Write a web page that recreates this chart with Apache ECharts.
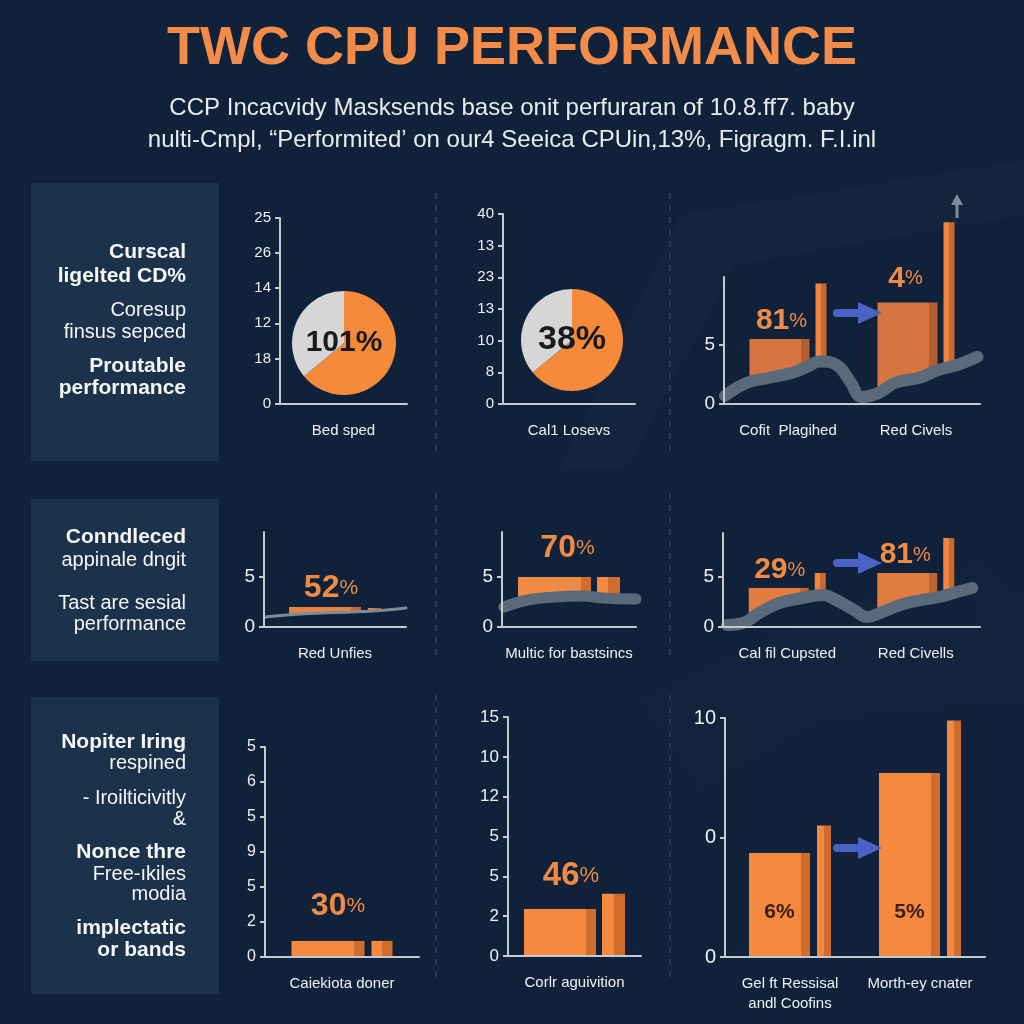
<!DOCTYPE html>
<html><head><meta charset="utf-8">
<script src="https://cdn.jsdelivr.net/npm/echarts@6/dist/echarts.min.js"></script>
<style>html,body{margin:0;padding:0;background:#10223a}#c{width:1024px;height:1024px}</style>
</head><body><div id="c"></div><script>
// ================= DATA =================
const titleText = 'TWC CPU PERFORMANCE';
const subtitleLines = [
  'CCP Incacvidy Masksends base onit perfuraran of 10.8.ff7. baby',
  'nulti-Cmpl, \u201cPerformited\u2019 on our4 Seeica CPUin,13%, Figragm. F.I.inl'
];
const panel1Text = ['Curscal', 'ligelted CD%', 'Coresup', 'finsus sepced', 'Proutable', 'performance'];
const panel1Bold = [true, true, false, false, true, true];
const panel2Text = ['Conndleced', 'appinale dngit', 'Tast are sesial', 'performance'];
const panel2Bold = [true, false, false, false];
const panel3Text = ['Nopiter Iring', 'respined', '- Iroilticivitly', '&', 'Nonce thre', 'Free-\u0131kiles', 'modia', 'implectatic', 'or bands'];
const panel3Bold = [true, false, false, false, true, false, false, true, true];

// Chart A (pie on axes)
const aCategories = ['Bed sped'];
const aTickValues = [0, 1.3, 2.3, 3.3, 4.3, 5.3];
const aTickLabels = ['0', '18', '12', '14', '26', '25'];
const aPieValues = [64, 36];
const aPieLabel = '101%';
// Chart B (pie on axes)
const bCategories = ['Cal1 Losevs'];
const bTickValues = [0, 1, 2, 3, 4, 5, 6];
const bTickLabels = ['0', '8', '10', '13', '23', '13', '40'];
const bPieValues = [64, 36];
const bPieLabel = '38%';
// Chart C
const cCategories = ['Cofit  Plagihed', 'Red Civels'];
const cTickValues = [0, 5];
const cTickLabels = ['0', '5'];
const cWide = [5.5, 8.6];
const cThin = [10.2, 15.4];
const cWideLabels = ['81', '4'];
const cLineX = [0.4, 9, 17, 26, 32, 37.5, 44, 49, 54, 60, 67, 76, 84, 91, 99];
const cLineY = [0.7, 1.8, 2.2, 2.6, 3.1, 3.6, 3.3, 2.0, 0.6, 0.9, 1.8, 2.2, 2.9, 3.3, 4.0];
// Chart D
const dCategories = ['Red Unfies'];
const dTickValues = [0, 5];
const dTickLabels = ['0', '5'];
const dWide = [2.0];
const dThin = [1.9];
const dWideLabels = ['52'];
const dLineX = [0.7, 26, 77, 100];
const dLineY = [1.0, 1.3, 1.6, 1.9];
// Chart E
const eCategories = ['Multic for bastsincs'];
const eTickValues = [0, 5];
const eTickLabels = ['0', '5'];
const eWide = [5.0];
const eThin = [5.0];
const eWideLabels = ['70'];
const eLineX = [1.5, 19, 40, 60, 76, 100];
const eLineY = [2.0, 2.7, 3.0, 3.1, 2.9, 2.8];
// Chart F
const fCategories = ['Cal fil Cupsted', 'Red Civells'];
const fTickValues = [0, 5];
const fTickLabels = ['0', '5'];
const fWide = [3.9, 5.4];
const fThin = [5.4, 8.9];
const fWideLabels = ['29', '81'];
const fLineX = [1.6, 7.8, 14, 22, 31, 39, 44, 51, 56, 61, 69, 77, 84, 91, 97];
const fLineY = [0.2, 0.4, 1.4, 2.4, 2.9, 3.2, 2.7, 1.7, 1.0, 1.4, 2.2, 2.7, 3.0, 3.5, 3.9];
// Chart G
const gCategories = ['Caiekiota doner'];
const gTickValues = [0, 1, 2, 3, 4, 5, 6];
const gTickLabels = ['0', '2', '5', '9', '5', '6', '5'];
const gWide = [0.46];
const gThin = [0.46];
const gWideLabels = ['30'];
// Chart H
const hCategories = ['Corlr aguivition'];
const hTickValues = [0, 1, 2, 3, 4, 5, 6];
const hTickLabels = ['0', '2', '5', '5', '12', '10', '15'];
const hWide = [1.18];
const hThin = [1.56];
const hWideLabels = ['46'];
// Chart I
const iCategories = ['Gel ft Ressisal\nandl Coofins', 'Morth-ey cnater'];
const iTickValues = [0, 1, 2];
const iTickLabels = ['0', '0', '10'];
const iWide = [0.87, 1.54];
const iThin = [1.10, 1.98];
const iInnerLabels = ['6%', '5%'];

// ================= STYLE =================
const BG = '#10223a';
const PANEL = '#1c324b';
const AXIS = '#c5cad1';
const TXT = '#eef1f4';
const ORANGE = '#f08b45';
const FONT = '"Liberation Sans", Arial, sans-serif';

const chart = echarts.init(document.getElementById('c'), null, {renderer: 'canvas', width: 1024, height: 1024});

function grad(front, side, stop) {
  return new echarts.graphic.LinearGradient(0, 0, 1, 0, [
    {offset: 0, color: front}, {offset: stop, color: front},
    {offset: stop, color: side}, {offset: 1, color: side}
  ]);
}
function tickFormatter(vals, labels) {
  return function (v) {
    for (let i = 0; i < vals.length; i++) if (Math.abs(vals[i] - v) < 1e-6) return labels[i];
    return '';
  };
}
const pctRich = (n, p) => ({
  n: {fontSize: n, fontWeight: 'bold', color: ORANGE, fontFamily: FONT},
  p: {fontSize: p, color: ORANGE, fontFamily: FONT}
});

const grids = [], xAxes = [], yAxes = [], series = [];

function addChart(o) {
  const gi = grids.length;
  grids.push({left: o.box[0], top: o.box[1], width: o.box[2], height: o.box[3], containLabel: false});
  const xi = xAxes.length;
  xAxes.push({
    type: 'category', gridIndex: gi, data: o.categories, z: 6,
    axisLine: {lineStyle: {color: AXIS, width: 2}}, axisTick: {show: false},
    axisLabel: {color: TXT, fontSize: 15, margin: 17, fontFamily: FONT, interval: 0, lineHeight: 20},
    splitLine: {show: false}
  });
  let lxi = null;
  if (o.lineX) {
    lxi = xAxes.length;
    xAxes.push({type: 'value', gridIndex: gi, min: 0, max: 100, show: false});
  }
  const yi = yAxes.length;
  yAxes.push({
    type: 'value', gridIndex: gi, min: 0, max: o.yMax, interval: o.interval, z: 6,
    axisLine: {show: true, lineStyle: {color: AXIS, width: 2}},
    axisTick: {show: true, length: 5, lineStyle: {color: AXIS, width: 2}, customValues: o.ticks},
    axisLabel: {color: TXT, fontSize: o.tickFont, fontWeight: 500, margin: 9, fontFamily: FONT,
      customValues: o.ticks, formatter: tickFormatter(o.ticks, o.tickLabels)},
    splitLine: {show: false}
  });
  if (o.wide) {
    const wideData = o.wide.map((v, i) => {
      const item = {value: v};
      if (o.wideLabels) {
        item.label = {show: true, position: 'top', distance: o.labDist[i], offset: [o.labOff[i], 0],
          formatter: '{n|' + o.wideLabels[i] + '}{p|%}', rich: pctRich(o.labN, o.labP)};
      }
      if (o.innerLabels) {
        item.label = {show: true, position: 'insideBottom', distance: 34, formatter: o.innerLabels[i],
          color: '#3a200f', fontSize: 21, fontWeight: 'bold', fontFamily: FONT};
      }
      return item;
    });
    series.push({type: 'bar', xAxisIndex: xi, yAxisIndex: yi, data: wideData, barWidth: o.wideW,
      barGap: (o.gap / o.wideW * 100) + '%', clip: false, z: 2,
      itemStyle: {color: grad(o.wideColor[0], o.wideColor[1], 0.86)}});
    series.push({type: 'bar', xAxisIndex: xi, yAxisIndex: yi, data: o.thin, barWidth: o.thinW,
      barGap: (o.gap / o.wideW * 100) + '%', clip: false, z: 2,
      itemStyle: {color: grad(o.thinColor[0], o.thinColor[1], 0.5)}});
  }
  if (o.lineX) {
    series.push({type: 'line', xAxisIndex: lxi, yAxisIndex: yi, smooth: 0.45, symbol: 'none', clip: false, z: 3,
      data: o.lineX.map((x, i) => [x, o.lineY[i]]),
      lineStyle: {color: o.lineColor, width: o.lineW, cap: 'round', join: 'round'},
      areaStyle: {color: BG, opacity: 1, origin: 'start'}});
  }
}

// Chart A
addChart({box: [280, 218, 127, 186], categories: aCategories, yMax: 5.3, ticks: aTickValues, tickLabels: aTickLabels, tickFont: 15});
// Chart B
addChart({box: [503, 214, 132, 190], categories: bCategories, yMax: 6, interval: 1, ticks: bTickValues, tickLabels: bTickLabels, tickFont: 15});
// Chart C
addChart({box: [724, 277, 256, 127], categories: cCategories, yMax: 10.76, ticks: cTickValues, tickLabels: cTickLabels, tickFont: 19,
  wide: cWide, thin: cThin, wideW: 60, thinW: 11, gap: 6, wideColor: ['#d47542', '#b35d31'], thinColor: ['#ef8741', '#c9692d'],
  wideLabels: cWideLabels, labDist: [3, 9], labOff: [2, -2], labN: 30, labP: 20,
  lineX: cLineX, lineY: cLineY, lineW: 12, lineColor: '#5a6a7b'});
// Chart D
addChart({box: [264, 532, 142, 95], categories: dCategories, yMax: 9.5, ticks: dTickValues, tickLabels: dTickLabels, tickFont: 19,
  wide: dWide, thin: dThin, wideW: 72, thinW: 13, gap: 7, wideColor: ['#e58543', '#c46a30'], thinColor: ['#e58543', '#c46a30'],
  wideLabels: dWideLabels, labDist: [3], labOff: [6], labN: 32, labP: 21,
  lineX: dLineX, lineY: dLineY, lineW: 3, lineColor: '#7f8a97'});
// Chart E
addChart({box: [502, 532, 134, 95], categories: eCategories, yMax: 9.5, ticks: eTickValues, tickLabels: eTickLabels, tickFont: 19,
  wide: eWide, thin: eThin, wideW: 73, thinW: 23, gap: 6, wideColor: ['#f08a45', '#cf6c2e'], thinColor: ['#f08a45', '#cf6c2e'],
  wideLabels: eWideLabels, labDist: [13], labOff: [13], labN: 32, labP: 21,
  lineX: eLineX, lineY: eLineY, lineW: 11, lineColor: '#5a6a7b'});
// Chart F
addChart({box: [723, 533, 257, 94], categories: fCategories, yMax: 9.4, ticks: fTickValues, tickLabels: fTickLabels, tickFont: 19,
  wide: fWide, thin: fThin, wideW: 60, thinW: 11, gap: 6, wideColor: ['#e27d3f', '#c06430'], thinColor: ['#ef8741', '#c9692d'],
  wideLabels: fWideLabels, labDist: [3, 3], labOff: [1, -2], labN: 30, labP: 20,
  lineX: fLineX, lineY: fLineY, lineW: 12, lineColor: '#5a6a7b'});
// Chart G
addChart({box: [265, 747, 154, 210], categories: gCategories, yMax: 6, interval: 1, ticks: gTickValues, tickLabels: gTickLabels, tickFont: 16,
  wide: gWide, thin: gThin, wideW: 73, thinW: 21, gap: 7, wideColor: ['#f5893f', '#d06c2b'], thinColor: ['#f5893f', '#d06c2b'],
  wideLabels: gWideLabels, labDist: [19], labOff: [10], labN: 32, labP: 21});
// Chart H
addChart({box: [508, 717, 133, 239], categories: hCategories, yMax: 6, interval: 1, ticks: hTickValues, tickLabels: hTickLabels, tickFont: 17,
  wide: hWide, thin: hThin, wideW: 72, thinW: 23, gap: 6, wideColor: ['#f5893f', '#d06c2b'], thinColor: ['#f5893f', '#d06c2b'],
  wideLabels: hWideLabels, labDist: [17], labOff: [11], labN: 33, labP: 22});
// Chart I
addChart({box: [725, 718, 260, 239], categories: iCategories, yMax: 2, interval: 1, ticks: iTickValues, tickLabels: iTickLabels, tickFont: 20,
  wide: iWide, thin: iThin, wideW: 61, thinW: 14, gap: 7, wideColor: ['#f5893f', '#d06c2b'], thinColor: ['#f5893f', '#d06c2b'],
  innerLabels: iInnerLabels});

// Pies
function pie(center, r, values, label, fs) {
  return {type: 'pie', center: center, radius: r, startAngle: 90, clockwise: true, silent: true, z: 4,
    label: {show: false}, labelLine: {show: false}, itemStyle: {borderWidth: 0},
    data: [
      {value: values[0], name: 'a', itemStyle: {color: '#f58a3b'},
        label: {show: true, position: 'center', formatter: label, color: '#1b1b1f', fontSize: fs, fontWeight: 'bold', fontFamily: FONT}},
      {value: values[1], name: 'b', itemStyle: {color: '#d6d6d6'}}
    ]};
}
series.push(pie([344, 343], 52, aPieValues, aPieLabel, 30));
series.push(pie([572, 340], 51, bPieValues, bPieLabel, 34));

// ================= GRAPHICS (decoration & text) =================
const gfx = [];
// faint background swirls
gfx.push({type: 'polygon', z: -10, shape: {points: [[560, 470], [680, 215], [1024, 160], [1024, 215], [735, 265], [625, 470]]}, style: {fill: 'rgba(120,150,190,0.025)'}});
gfx.push({type: 'polygon', z: -10, shape: {points: [[640, 700], [760, 640], [980, 560], [1024, 600], [1024, 700], [820, 720], [700, 790]]}, style: {fill: 'rgba(120,150,190,0.02)'}});

// title & subtitle
gfx.push({type: 'text', x: 512, y: 49, style: {text: titleText, fill: '#f28c48', font: 'bold 54px ' + FONT, align: 'center', verticalAlign: 'middle', textAlign: 'center', textVerticalAlign: 'middle'}});
const subY = [108, 140];
subtitleLines.forEach((t, i) => gfx.push({type: 'text', x: 512, y: subY[i], style: {text: t, fill: '#e8ebef', font: '24px ' + FONT, align: 'center', verticalAlign: 'middle', textAlign: 'center', textVerticalAlign: 'middle'}}));

// left panels
const panels = [[31, 183, 188, 278], [31, 499, 188, 162], [31, 697, 188, 297]];
panels.forEach(p => gfx.push({type: 'rect', z: -5, shape: {x: p[0], y: p[1], width: p[2], height: p[3]}, style: {fill: PANEL}}));
function panelText(texts, bolds, ys) {
  texts.forEach((t, i) => gfx.push({type: 'text', x: 186, y: ys[i], style: {text: t, fill: '#f4f6f8',
    font: (bolds[i] ? 'bold 21px ' : '20px ') + FONT, align: 'right', verticalAlign: 'middle', textAlign: 'right', textVerticalAlign: 'middle'}}));
}
panelText(panel1Text, panel1Bold, [252, 276, 310, 332, 366, 388]);
panelText(panel2Text, panel2Bold, [537, 560, 603, 624]);
panelText(panel3Text, panel3Bold, [742, 763, 798, 819, 852, 874, 894, 928, 950]);

// dashed separators
const sepX = [436, 670];
const sepY = [[193, 452], [493, 655], [695, 983]];
sepY.forEach(r => sepX.forEach(x => gfx.push({type: 'line', z: -4, shape: {x1: x, y1: r[0], x2: x, y2: r[1]}, style: {stroke: 'rgba(160,180,200,0.35)', lineWidth: 1, lineDash: [6, 6]}})));

// blue arrows
function blueArrow(x0, xh, x1, yc) {
  gfx.push({type: 'polygon', z: 10, shape: {points: [[x0, yc - 4], [xh, yc - 4], [xh, yc - 11], [x1, yc], [xh, yc + 11], [xh, yc + 4], [x0, yc + 4]]}, style: {fill: '#4b62c6'}});
  gfx.push({type: 'circle', z: 10, shape: {cx: x0, cy: yc, r: 4}, style: {fill: '#4b62c6'}});
}
blueArrow(837, 858, 882, 313);
blueArrow(837, 858, 882, 563);
blueArrow(837, 858, 882, 848);
// gray up arrow
gfx.push({type: 'polygon', z: 10, shape: {points: [[955.5, 218], [955.5, 205], [951, 205], [957, 194], [963, 205], [958.5, 205], [958.5, 218]]}, style: {fill: '#7f8c99'}});

chart.setOption({
  backgroundColor: BG,
  animation: false,
  grid: grids,
  xAxis: xAxes,
  yAxis: yAxes,
  series: series,
  graphic: {elements: gfx}
});
</script></body></html>
